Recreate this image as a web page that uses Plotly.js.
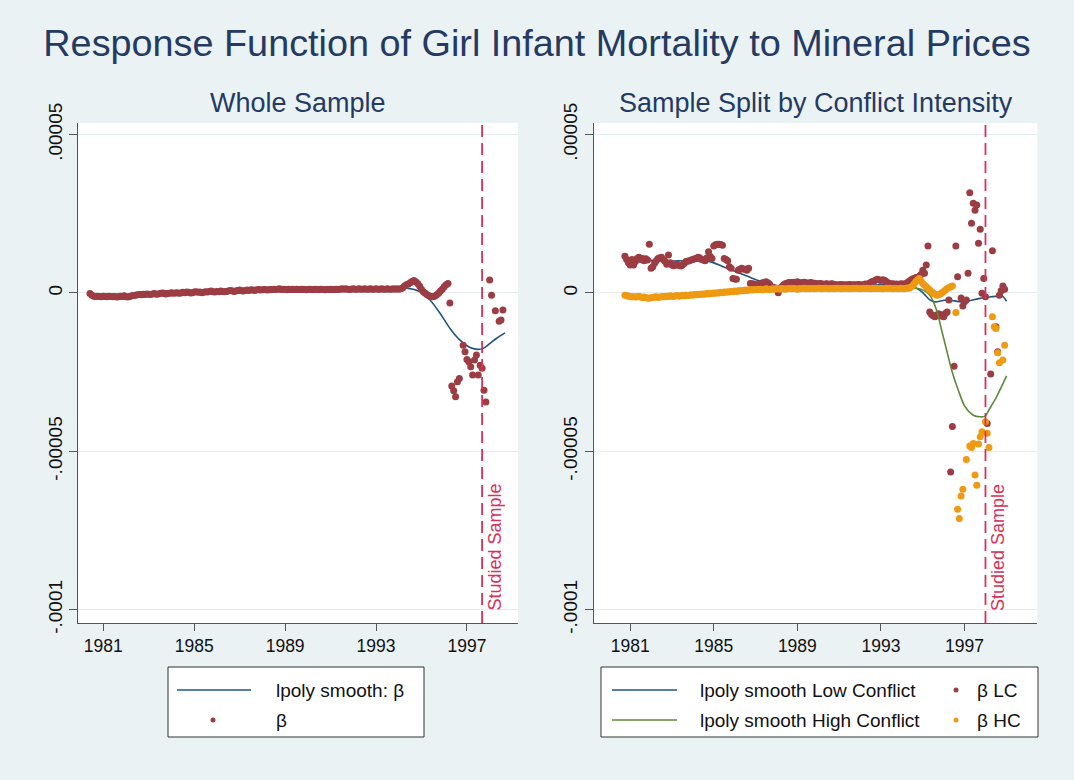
<!DOCTYPE html>
<html><head><meta charset="utf-8">
<script src="https://cdn.plot.ly/plotly-3.0.1.min.js"></script>
<style>html,body{margin:0;padding:0;background:#eaf2f3}</style>
</head><body><div id="chart" style="width:1074px;height:780px"></div>
<script>
// ---------- DATA (values in units of 1e-6) ----------
const startDate = 1980.75;   // Oct 1980, monthly observations
const nMonths = 219;
const months = Array.from({length: nMonths}, (_, i) => startDate + i / 12);
const tickYears = [1981, 1985, 1989, 1993, 1997];
const studiedStart = 1998.0;

// Whole sample beta (one row = 12 months)
const betaWhole = [
 -0.2,-0.7,-1.0,-1.1,-1.0,-1.1,-1.2,-1.0,-1.1,-1.2,-1.0,-1.1,
 -1.2,-1.1,-1.3,-1.2,-1.0,-1.1,-0.9,-1.2,-1.3,-1.1,-0.9,-0.8,
 -0.7,-0.6,-0.5,-0.6,-0.4,-0.5,-0.3,-0.4,-0.5,-0.3,-0.2,-0.4,
 -0.3,-0.2,0.0,-0.1,-0.3,-0.2,-0.1,0.1,-0.1,0.0,0.1,-0.1,
 0.0,0.2,0.1,0.3,0.2,0.0,0.1,0.3,0.4,0.2,0.3,0.1,
 0.2,0.4,0.3,0.5,0.6,0.4,0.3,0.5,0.4,0.6,0.5,0.4,
 0.5,0.6,0.8,0.7,0.5,0.6,0.8,0.9,0.7,0.6,0.8,0.9,
 0.8,1.0,0.9,0.8,1.0,1.1,0.9,1.0,1.1,1.0,0.9,1.1,
 1.1,1.2,1.1,1.2,1.3,1.1,1.2,1.1,1.0,1.2,1.1,1.2,
 1.1,1.2,1.1,1.1,1.2,1.1,1.0,1.1,1.2,1.1,1.1,1.2,
 1.1,1.1,1.2,1.1,1.0,1.1,1.1,1.2,1.1,1.1,1.2,1.1,
 1.2,1.3,1.2,1.3,1.2,1.1,1.2,1.3,1.2,1.2,1.3,1.2,
 1.2,1.3,1.2,1.2,1.3,1.2,1.2,1.3,1.2,1.2,1.3,1.2,
 1.2,1.3,1.2,1.2,1.3,1.2,1.3,1.2,1.3,1.6,2.2,2.6,
 2.8,3.2,3.6,3.9,3.5,3.0,2.2,1.2,0.4,-0.1,-0.6,-0.9,
 -1.1,-1.2,-1.0,-0.6,-0.1,0.6,1.2,2.0,2.6,3.0,-3.2,-29.4,
 -30.9,-32.8,-28.0,-27.0,null,-16.5,-18.6,-21.0,-21.7,-23.3,-25.9,-21.2,
 -19.6,-25.9,-22.8,-23.8,-30.7,-34.4,null,4.1,-0.7,null,-5.6,null,
 -8.9,-8.5,-5.4
];

// Low-conflict beta
const betaLC = [
 11.6,10.6,9.5,8.8,10.6,8.8,9.9,10.9,11.3,10.6,10.9,10.2,
 10.8,10.4,15.4,7.8,8.3,9.4,10.2,10.9,11.1,11.3,10.6,10.0,
 9.1,12.0,9.5,8.8,8.6,8.8,9.1,8.7,8.5,8.8,9.3,9.9,
 10.0,10.2,10.4,10.6,10.8,10.9,11.3,11.0,10.6,10.4,10.2,11.0,
 13.0,11.5,10.9,14.8,15.2,15.4,15.4,15.3,15.1,10.9,10.6,10.2,
 8.3,7.8,4.6,4.4,4.3,7.2,7.5,7.8,7.6,7.5,7.2,7.8,
 3.0,2.9,2.8,2.6,2.5,2.7,3.0,3.2,3.3,3.5,3.2,2.8,
 2.0,1.8,1.6,1.4,0.1,1.2,2.0,2.5,2.9,3.1,3.3,3.2,
 3.3,3.4,3.2,3.5,3.3,3.1,3.3,3.4,3.2,3.0,3.2,3.3,
 3.0,3.1,2.9,2.8,3.0,2.9,2.7,2.8,2.9,2.7,2.8,2.9,
 2.7,2.6,2.5,2.6,2.7,2.5,2.6,2.5,2.6,2.7,2.5,2.6,
 2.6,2.5,2.7,2.6,2.5,2.6,2.8,2.7,3.0,3.3,3.6,3.8,
 4.1,4.3,4.1,3.9,4.2,4.0,3.6,3.2,3.0,2.8,2.9,2.7,
 2.8,2.7,2.8,2.9,2.7,2.9,3.2,3.6,4.0,4.4,4.6,4.9,
 4.9,5.3,5.8,7.2,6.2,8.8,14.8,-6.0,-6.8,-7.2,-7.5,-7.0,
 -6.6,-7.3,-6.9,-7.5,-6.5,-6.0,-2.2,-56.5,-42.2,-23.1,14.8,5.1,
 null,-1.6,-4.1,-2.8,-2.2,6.2,31.6,22.0,28.3,26.1,27.8,15.7,
 20.1,-0.1,4.6,-1.2,-41.2,null,-25.6,13.3,null,-10.7,-18.6,-0.7,
 0.7,2.2,1.2
];

// High-conflict beta
const betaHC = [
 -0.7,-0.8,-1.0,-1.1,-1.2,-1.2,-1.3,-1.2,-1.1,-1.3,-1.4,-1.3,
 -1.5,-1.6,-1.7,-1.5,-1.4,-1.3,-1.2,-1.4,-1.3,-1.2,-1.1,-1.2,
 -1.0,-1.1,-0.9,-1.0,-1.1,-0.9,-0.8,-1.0,-0.9,-0.8,-0.9,-0.7,
 -0.8,-0.7,-0.6,-0.7,-0.5,-0.6,-0.4,-0.5,-0.3,-0.4,-0.3,-0.2,
 -0.3,-0.1,-0.2,0.0,-0.1,0.1,0.0,0.2,0.1,0.3,0.2,0.4,
 0.3,0.5,0.4,0.6,0.5,0.7,0.6,0.8,0.7,0.9,0.8,0.9,
 1.0,0.9,1.1,1.0,1.2,1.1,1.2,1.0,1.1,1.3,1.2,1.1,
 1.2,1.3,1.2,1.4,1.3,1.2,1.4,1.3,1.2,1.3,1.4,1.3,
 1.3,1.4,1.3,1.2,1.4,1.3,1.4,1.5,1.3,1.4,1.3,1.4,
 1.4,1.3,1.4,1.5,1.4,1.3,1.4,1.5,1.4,1.3,1.4,1.4,
 1.3,1.4,1.5,1.4,1.3,1.4,1.5,1.4,1.4,1.3,1.4,1.5,
 1.4,1.5,1.4,1.3,1.4,1.5,1.4,1.5,1.4,1.3,1.4,1.5,
 1.4,1.5,1.4,1.5,1.3,1.4,1.5,1.4,1.5,1.4,1.3,1.4,
 1.4,1.3,1.5,1.4,1.3,1.4,1.6,1.5,1.8,2.2,2.8,3.6,
 4.1,4.6,3.8,3.0,2.4,2.0,1.4,0.9,0.4,0.0,-0.4,-0.7,
 -0.6,-0.3,0.1,0.5,0.9,1.4,1.7,2.0,2.2,null,-6.2,-68.3,
 -71.2,-64.1,-62.0,null,-52.6,null,-48.3,-48.8,-47.5,-57.5,-60.7,-47.7,
 -45.4,-43.8,null,-40.7,-44.3,-48.8,null,-7.5,-10.7,-11.2,-18.9,-22.0,
 null,-21.2,-16.5
];

// lpoly smooths (evaluation points)
const smoothWholeX = [1980.75,1982.0,1983.0,1984.0,1985.0,1986.0,1987.0,1988.0,1989.0,1990.0,1991.0,1992.0,1993.0,1994.0,1994.70,1995.27,1995.71,1996.15,1996.59,1997.03,1997.47,1997.83,1998.05,1998.35,1998.64,1999.01];
const smoothWholeY = [-0.8,-0.9,-0.6,-0.3,0.0,0.3,0.6,0.8,1.0,1.1,1.1,1.2,1.2,1.3,1.5,0.4,-2.2,-6.4,-11.2,-14.9,-17.2,-17.8,-17.5,-15.9,-14.3,-12.6];

const smoothLCX = [1980.75,1981.5,1982.27,1983.0,1983.86,1984.82,1985.45,1986.25,1987.05,1987.85,1988.64,1990.22,1991.84,1992.62,1994.23,1994.54,1994.95,1995.34,1995.58,1996.14,1996.94,1997.74,1998.53,1998.77,1999.01];
const smoothLCY = [10.6,10.4,10.2,10.1,10.2,9.9,8.3,6.2,4.1,2.5,2.0,2.0,2.2,2.5,2.5,2.0,0.4,-2.2,-2.8,-2.2,-2.8,-1.7,-1.0,-0.7,-2.6];

const smoothHCX = [1980.75,1982.0,1983.0,1984.0,1985.0,1986.0,1987.0,1988.0,1989.0,1990.0,1991.0,1992.0,1993.0,1994.0,1994.71,1995.02,1995.34,1995.66,1995.90,1996.14,1996.38,1996.70,1997.02,1997.42,1997.74,1997.98,1998.21,1998.53,1999.01];
const smoothHCY = [-0.9,-1.2,-1.0,-0.6,-0.1,0.4,0.9,1.1,1.3,1.3,1.4,1.4,1.5,1.5,1.5,0.9,-0.7,-5.4,-11.7,-18.0,-24.3,-30.7,-35.9,-38.6,-39.1,-38.9,-36.4,-32.8,-26.2];

const yTickVals = [-0.0001, -0.00005, 0, 0.00005];
const yTickText = ['-.0001', '-.00005', '0', '.00005'];

// ---------- STYLE ----------
const W = 1074, H = 780;
const px = x => x / W;
const py = y => 1 - y / H;
const FONT = 'Liberation Sans, Arial, Helvetica, sans-serif';
const NAVY = '#1f5582', MAROON = '#9c3c43', GREEN = '#5f8a3a', ORANGE = '#ee9a12';
const RED = '#d6325a', TITLE = '#253a63', AXIS = '#555555', BG = '#eaf2f3';
const toVal = a => a.map(v => v === null ? null : v * 1e-6);
const leftTickOffset = 0.335;

const yDomain = [py(623), py(123)];
const yRange = [-1.042e-4, 5.366e-5];

function yAxis(extra) {
  return Object.assign({
    domain: yDomain, range: yRange, tickvals: yTickVals, ticktext: yTickText,
    tickangle: -90, ticks: 'outside', ticklen: 8, tickcolor: AXIS, tickwidth: 1,
    showline: true, linecolor: AXIS, linewidth: 1, showgrid: true, gridcolor: '#e4ecee',
    zeroline: false, tickfont: {size: 19, color: '#111', family: FONT}, fixedrange: true
  }, extra);
}
function xAxis(extra) {
  return Object.assign({
    ticks: 'outside', ticklen: 7, tickcolor: AXIS, tickwidth: 1,
    showline: true, linecolor: AXIS, linewidth: 1, showgrid: false, zeroline: false,
    tickfont: {size: 17.5, color: '#111', family: FONT}, fixedrange: true
  }, extra);
}

const traces = [
  {x: smoothWholeX, y: toVal(smoothWholeY), mode: 'lines', line: {color: NAVY, width: 1.6, shape: 'spline', smoothing: 0.8}, xaxis: 'x', yaxis: 'y', name: 'lpoly smooth: β'},
  {x: months, y: toVal(betaWhole), mode: 'markers', marker: {color: MAROON, size: 7}, xaxis: 'x', yaxis: 'y', name: 'β'},
  {x: smoothLCX, y: toVal(smoothLCY), mode: 'lines', line: {color: NAVY, width: 1.6, shape: 'spline', smoothing: 0.8}, xaxis: 'x2', yaxis: 'y2', name: 'lpoly smooth Low Conflict'},
  {x: months, y: toVal(betaLC), mode: 'markers', marker: {color: MAROON, size: 7}, xaxis: 'x2', yaxis: 'y2', name: 'β LC'},
  {x: smoothHCX, y: toVal(smoothHCY), mode: 'lines', line: {color: GREEN, width: 1.6, shape: 'spline', smoothing: 0.8}, xaxis: 'x2', yaxis: 'y2', name: 'lpoly smooth High Conflict'},
  {x: months, y: toVal(betaHC), mode: 'markers', marker: {color: ORANGE, size: 7}, xaxis: 'x2', yaxis: 'y2', name: 'β HC'}
];

// legend drawn as boxes (positions in pixels)
const shapes = [
  {type: 'line', xref: 'x', yref: 'y domain', x0: studiedStart, x1: studiedStart, y0: 0, y1: 1, line: {color: RED, width: 1.8, dash: '12px,6px'}},
  {type: 'line', xref: 'x2', yref: 'y2 domain', x0: studiedStart, x1: studiedStart, y0: 0, y1: 1, line: {color: RED, width: 1.8, dash: '12px,6px'}},
  {type: 'rect', xref: 'paper', yref: 'paper', x0: px(168), x1: px(424), y0: py(737), y1: py(667), line: {color: '#333', width: 1}, fillcolor: 'white', layer: 'below'},
  {type: 'rect', xref: 'paper', yref: 'paper', x0: px(601), x1: px(1038), y0: py(737), y1: py(667), line: {color: '#333', width: 1}, fillcolor: 'white', layer: 'below'},
  {type: 'line', xref: 'paper', yref: 'paper', x0: px(177), x1: px(251), y0: py(690), y1: py(690), line: {color: NAVY, width: 1.6}},
  {type: 'circle', xref: 'paper', yref: 'paper', x0: px(210.5), x1: px(215.5), y0: py(722.5), y1: py(717.5), line: {width: 0}, fillcolor: MAROON},
  {type: 'line', xref: 'paper', yref: 'paper', x0: px(612), x1: px(677), y0: py(690), y1: py(690), line: {color: NAVY, width: 1.6}},
  {type: 'line', xref: 'paper', yref: 'paper', x0: px(612), x1: px(677), y0: py(720), y1: py(720), line: {color: GREEN, width: 1.6}},
  {type: 'circle', xref: 'paper', yref: 'paper', x0: px(953.5), x1: px(958.5), y0: py(692.5), y1: py(687.5), line: {width: 0}, fillcolor: MAROON},
  {type: 'circle', xref: 'paper', yref: 'paper', x0: px(953.5), x1: px(958.5), y0: py(722.5), y1: py(717.5), line: {width: 0}, fillcolor: ORANGE}
];

const legFont = {size: 19, color: '#111', family: FONT};
function legText(text, x, y) {
  return {text, xref: 'paper', yref: 'paper', x: px(x), y: py(y), xanchor: 'left', yanchor: 'middle', showarrow: false, font: legFont};
}
const annotations = [
  {text: 'Whole Sample', xref: 'paper', yref: 'paper', x: px(298), y: py(103), xanchor: 'center', yanchor: 'middle', showarrow: false, font: {size: 27, color: TITLE, family: FONT}},
  {text: 'Sample Split by Conflict Intensity', xref: 'paper', yref: 'paper', x: px(815.5), y: py(103), xanchor: 'center', yanchor: 'middle', showarrow: false, font: {size: 27, color: TITLE, family: FONT}},
  {text: 'Studied Sample', xref: 'x', yref: 'y domain', x: studiedStart, y: 0, xanchor: 'left', yanchor: 'bottom', xshift: 0, yshift: 10, textangle: -90, showarrow: false, font: {size: 18, color: RED, family: FONT}},
  {text: 'Studied Sample', xref: 'x2', yref: 'y2 domain', x: studiedStart, y: 0, xanchor: 'left', yanchor: 'bottom', xshift: 0, yshift: 10, textangle: -90, showarrow: false, font: {size: 18, color: RED, family: FONT}},
  legText('lpoly smooth: β', 274, 690),
  legText('β', 274, 720),
  legText('lpoly smooth Low Conflict', 698, 690),
  legText('lpoly smooth High Conflict', 698, 720),
  legText('β LC', 975, 690),
  legText('β HC', 975, 720)
];

const layout = {
  width: W, height: H,
  margin: {l: 0, r: 0, t: 0, b: 0},
  paper_bgcolor: BG, plot_bgcolor: 'white',
  font: {family: FONT, color: '#111'},
  showlegend: false,
  title: {text: 'Response Function of Girl Infant Mortality to Mineral Prices', x: 0.5, xanchor: 'center', y: py(43), yanchor: 'middle', font: {size: 37.8, color: TITLE, family: FONT}},
  xaxis: xAxis({domain: [px(78.3), px(518)], range: [1980.235, 1999.58], anchor: 'y',
    tickvals: tickYears.map(v => v + leftTickOffset), ticktext: tickYears.map(String)}),
  yaxis: yAxis({anchor: 'x'}),
  xaxis2: xAxis({domain: [px(594), px(1037.3)], range: [1979.27, 2000.48], anchor: 'y2',
    tickvals: tickYears, ticktext: tickYears.map(String)}),
  yaxis2: yAxis({anchor: 'x2'}),
  shapes, annotations
};

Plotly.newPlot('chart', traces, layout, {displayModeBar: false, staticPlot: true});
</script></body></html>
